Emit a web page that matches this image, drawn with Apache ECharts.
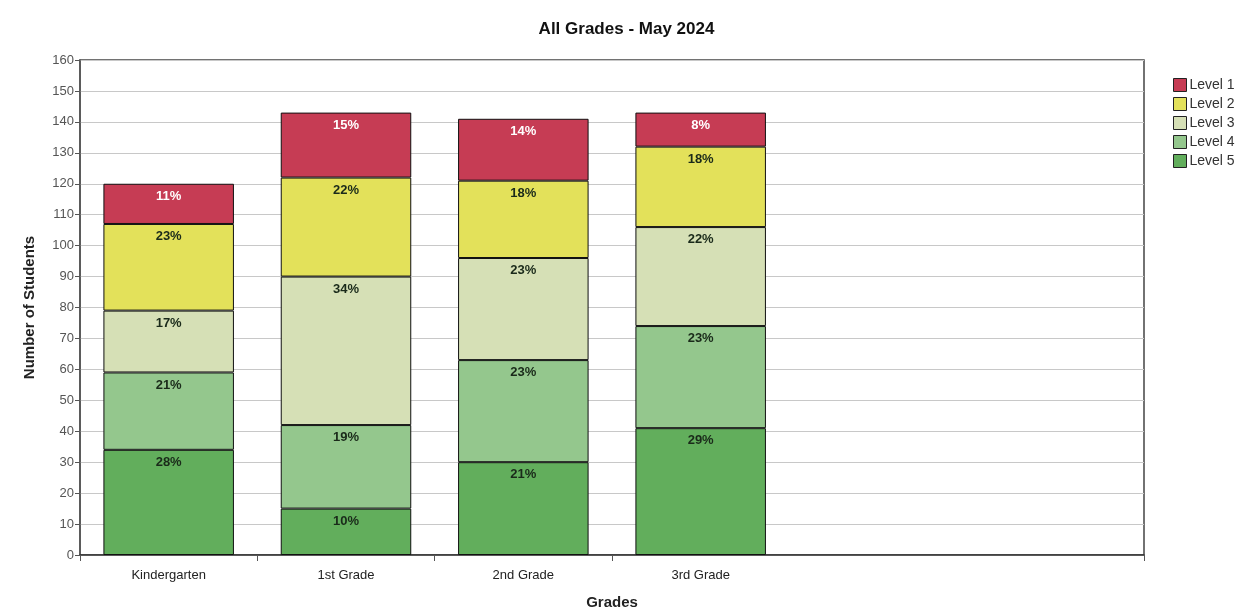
<!DOCTYPE html>
<html>
<head>
<meta charset="utf-8">
<script src="https://cdn.jsdelivr.net/npm/echarts@6/dist/echarts.min.js"></script>
<style>html,body{margin:0;padding:0;background:#fff;}#c{width:1253px;height:609px;}</style>
</head>
<body>
<div id="c"></div>
<script>
const categories = ['Kindergarten', '1st Grade', '2nd Grade', '3rd Grade', '', ''];
const level1 = [13, 21, 20, 11];
const level2 = [28, 32, 25, 26];
const level3 = [20, 48, 33, 32];
const level4 = [25, 27, 33, 33];
const level5 = [34, 15, 30, 41];
const yTicks = { min: 0, max: 160, interval: 10 };

const totals = level1.map((_, i) => level1[i] + level2[i] + level3[i] + level4[i] + level5[i]);

const FONT = '"Liberation Sans", Arial, sans-serif';
const chart = echarts.init(document.getElementById('c'));

function mk(name, data, color, labelColor) {
  return {
    name: name, type: 'bar', stack: 'all', data: data,
    barWidth: '73.6%',
    itemStyle: { color: color, borderColor: '#111', borderWidth: 1 },
    label: {
      show: true, position: 'insideTop', distance: 6,
      color: labelColor, fontWeight: 'bold', fontSize: 13, fontFamily: FONT,
      formatter: p => Math.round(p.value / totals[p.dataIndex] * 100) + '%'
    }
  };
}

chart.setOption({
  animation: false,
  backgroundColor: '#fff',
  title: {
    text: 'All Grades - May 2024', left: 'center', top: 16,
    textStyle: { fontSize: 17, fontWeight: 'bold', color: '#111', fontFamily: FONT }
  },
  legend: {
    orient: 'vertical', left: 1168, top: 73,
    itemWidth: 13, itemHeight: 13, itemGap: 5,
    icon: 'rect',
    data: ['Level 1', 'Level 2', 'Level 3', 'Level 4', 'Level 5'],
    textStyle: { fontSize: 14, color: '#333', fontFamily: FONT, padding: [0, 0, 0, -2] },
    itemStyle: { borderColor: '#222', borderWidth: 1 }
  },
  grid: {
    left: 80, right: 109, top: 60, bottom: 54,
    outerBoundsMode: 'none', containLabel: false,
    show: true, borderColor: '#444', borderWidth: 1.5, backgroundColor: 'transparent'
  },
  xAxis: {
    type: 'category', data: categories,
    name: 'Grades', nameLocation: 'middle', nameGap: 40,
    nameTextStyle: { fontSize: 15, fontWeight: 'bold', color: '#222', fontFamily: FONT },
    axisLine: { lineStyle: { color: '#333', width: 1.5 } },
    axisTick: { show: true, length: 6, interval: (i) => i <= 3, lineStyle: { color: '#555' } },
    axisLabel: { fontSize: 13, color: '#222', margin: 14, fontFamily: FONT, interval: 0 },
    splitLine: { show: false }
  },
  yAxis: {
    type: 'value', min: yTicks.min, max: yTicks.max, interval: yTicks.interval,
    name: 'Number of Students', nameLocation: 'middle', nameGap: 43,
    nameTextStyle: { fontSize: 15, fontWeight: 'bold', color: '#222', fontFamily: FONT },
    axisLine: { show: true, lineStyle: { color: '#555', width: 1.5 } },
    axisTick: { show: true, length: 5, lineStyle: { color: '#555' } },
    axisLabel: { fontSize: 13, color: '#555', margin: 6, fontFamily: FONT },
    splitLine: { show: true, lineStyle: { color: '#c8c8c8', width: 1 } }
  },
  series: [
    mk('Level 5', level5, '#62ae5c', '#1a2a1a'),
    mk('Level 4', level4, '#94c78d', '#1a2a1a'),
    mk('Level 3', level3, '#d6e0b6', '#1a2a1a'),
    mk('Level 2', level2, '#e3e15a', '#1a2a1a'),
    mk('Level 1', level1, '#c63c54', '#ffffff')
  ]
});
</script>
</body>
</html>
